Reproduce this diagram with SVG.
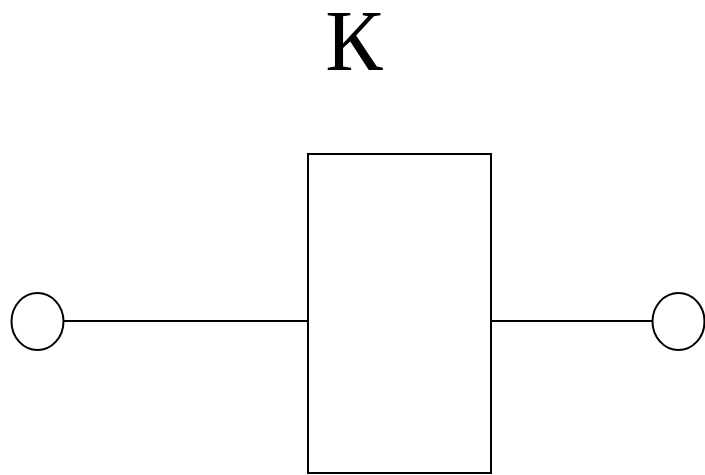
<svg xmlns="http://www.w3.org/2000/svg" width="705" height="475" viewBox="0 0 705 475">
<style>
.s{fill:none;stroke:#000;stroke-width:2}
.t{font-family:"Liberation Serif","Times New Roman",serif;font-size:86px;fill:#000}
</style>
<rect width="705" height="475" fill="#fff"/>
<text class="t" x="354" y="70" text-anchor="middle">К</text>
<g id="connectors">
<line class="s" x1="63.5" y1="321" x2="308" y2="321"/>
<line class="s" x1="491" y1="321" x2="652.5" y2="321"/>
</g>
<g id="block"><rect class="s" x="308" y="154" width="183" height="319"/></g>
<g id="terminal-left"><ellipse class="s" cx="37.5" cy="321.5" rx="26" ry="28.5"/></g>
<g id="terminal-right"><ellipse class="s" cx="678.5" cy="321.5" rx="26" ry="28.5"/></g>
</svg>
